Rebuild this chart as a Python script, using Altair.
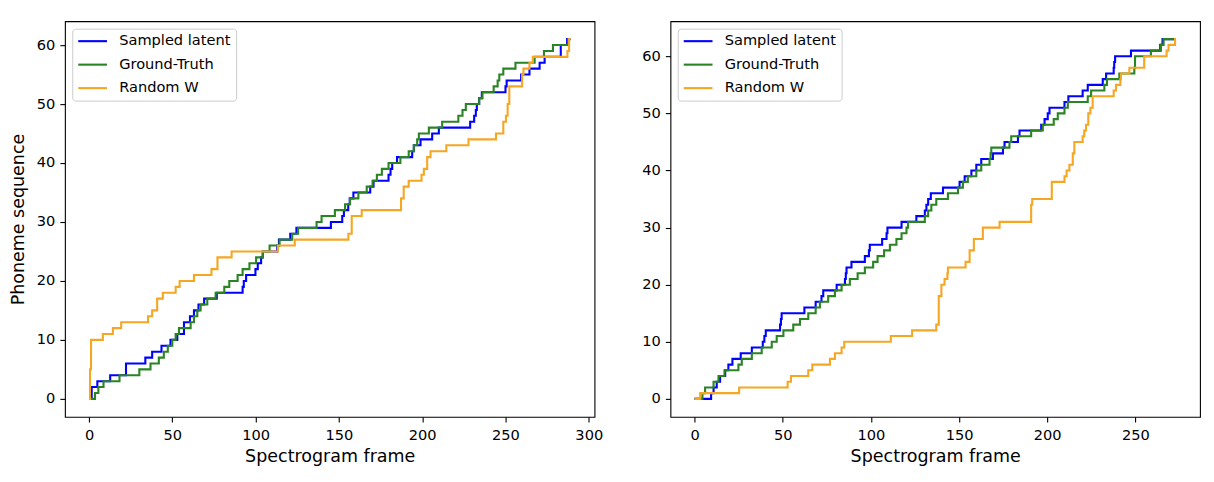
import altair as alt
import pandas as pd

SERIES = ["Sampled latent", "Ground-Truth", "Random W"]
COLORS = ["#0000ff", "#2a8424", "#f5a623"]

X_TITLE = "Spectrogram frame"
Y_TITLE = "Phoneme sequence"
Y_TICKS = [0, 10, 20, 30, 40, 50, 60]
L_X_TICKS = [0, 50, 100, 150, 200, 250, 300]
R_X_TICKS = [0, 50, 100, 150, 200, 250]

# ---------------- left panel ----------------
L_BLUE_X = [0, 1.6, 5, 12.7, 22.2, 33.8, 37.9, 43.5, 48.9, 53, 57, 60.6, 63, 65.7, 69.1,
            76.7, 92.2, 92.9, 94.3, 99.9, 101.3, 103.3, 104.3, 113, 114, 120.8, 124.5,
            145.2, 152, 153, 155.6, 156.5, 158.7, 168.8, 170.8, 179.8, 181, 182, 184.9,
            194, 195, 199, 206, 210, 228.8, 231.2, 232.2, 232.8, 234.2, 235.8, 250,
            250.7, 259.4, 264.4, 270.5, 273.5, 283.2, 287, 289]
L_BLUE_Y = [0, 2, 3, 4, 6, 7, 8, 9, 10, 11, 13, 14, 15, 16, 17,
            18, 19, 20, 21, 22, 23, 24, 25, 26, 27, 28, 29,
            30, 31, 32, 33, 34, 35, 36, 37, 38, 39, 40, 41,
            42, 43, 44, 45, 46, 47, 48, 49, 50, 51, 52, 53,
            54, 55, 56, 57, 58, 60, 61, 61]

L_GT_X = [0, 3.6, 5.6, 8.7, 18.3, 30.2, 36.9, 41.9, 44.9, 47.3, 50, 52, 54, 61, 63,
          65, 67, 71, 76, 81.2, 84.2, 89.2, 92.2, 96.3, 100.3, 104.3, 108.4, 114.4,
          122, 125.5, 136.6, 139.6, 147.6, 153.7, 156.7, 161.7, 166.7, 170.2, 172.8,
          175.8, 179.8, 186.9, 191.9, 195, 197, 198, 204, 212, 221.7, 224.2, 226.2,
          234.2, 236.2, 242.9, 245.3, 246.3, 248.7, 256, 267.5, 273.1, 278.5, 287.6, 289]
L_GT_Y = [0, 1, 2, 3, 4, 5, 6, 7, 8, 9, 10, 11, 12, 13, 14,
          15, 16, 17, 18, 19, 20, 21, 22, 23, 24, 25, 26, 27,
          28, 29, 30, 31, 32, 33, 34, 35, 36, 37, 38,
          39, 40, 41, 42, 43, 44, 45, 46, 47, 48, 49, 50,
          51, 52, 53, 54, 55, 56, 57, 58, 59, 60, 61, 61]

L_RW_X = [0, 0.6, 1.2, 8.3, 14.3, 19.3, 35.4, 37.9, 40.9, 44.3, 52, 54.4, 63, 73.5,
          77.1, 85.6, 113.4, 123.5, 155.7, 157.7, 163.7, 187.3, 188.9, 191.9, 199.6,
          201, 203, 205, 214.5, 227.8, 244.3, 248.7, 250.3, 251.3, 252.3, 260, 260.8,
          264.4, 266.4, 287.2, 288.2, 289]
L_RW_Y = [0, 5, 10, 11, 12, 13, 14, 15, 17, 18, 19, 20, 21, 22,
          24, 25, 26, 27, 28, 31, 32, 34, 36, 37, 38,
          39, 41, 42, 43, 44, 45, 47, 48, 50, 53, 55, 56,
          57, 58, 59, 61, 61]

# ---------------- right panel ----------------
R_BLUE_X = [0, 9.4, 10.8, 12.6, 14.5, 17.4, 19.2, 21.5, 26.2, 32.5, 38.7, 39.6, 40.4,
            48.5, 49, 49.4, 62.3, 68.7, 72, 73, 80.6, 85.3, 85.8, 86.2, 89, 96.6, 98.9,
            99.4, 106.4, 108.9, 109.4, 117.4, 125.8, 130.6, 131.5, 132.5, 134, 140.9,
            150.3, 153.2, 157, 159.8, 162.6, 169.2, 174.9, 175.8, 183.4, 184.3, 196.6,
            198.5, 200.3, 201.3, 209.8, 212, 220.1, 223, 231.5, 233.4, 237.7, 238, 238.5,
            247.5, 264.1, 265.4, 273]
R_BLUE_Y = [0, 1, 2, 3, 4, 5, 6, 7, 8, 9, 10, 11, 12,
            13, 14, 15, 16, 17, 18, 19, 20, 21, 22, 23, 24, 25, 26,
            27, 28, 29, 30, 31, 32, 33, 34, 35, 36, 37,
            38, 39, 40, 41, 42, 43, 44, 45, 46, 47, 48,
            49, 50, 51, 52, 53, 54, 55, 56, 57, 58, 59, 60,
            61, 62, 63, 63]

R_GT_X = [0, 4.5, 6, 10.8, 13.6, 17, 24.9, 26.8, 32.5, 38.1, 43.8, 46.6, 50.4, 56,
          59.8, 64.5, 68.7, 71.1, 75.8, 79.6, 83.4, 88.1, 92.5, 96.6, 101.3, 103.8,
          107.5, 110.8, 114.5, 117.4, 120.2, 121.1, 130.6, 132.5, 134.3, 137.1, 143.7,
          149.4, 152.2, 155, 159.8, 162.6, 167.3, 167.9, 168.3, 178.6, 179.6, 190.9,
          197.5, 203.7, 206, 209.8, 211.7, 223, 224.9, 232.4, 233.9, 240.9, 249.4,
          249.8, 258.8, 264.5, 266, 273]
R_GT_Y = [0, 1, 2, 3, 4, 5, 6, 7, 8, 9, 10, 11, 12, 13,
          14, 15, 16, 17, 18, 19, 20, 21, 22, 23, 24, 25,
          26, 27, 28, 29, 30, 31, 32, 33, 34, 35, 36,
          37, 38, 39, 40, 41, 42, 43, 44, 45, 46, 47,
          48, 49, 50, 51, 52, 53, 54, 55, 56, 57, 58,
          60, 61, 62, 63, 63]

R_RW_X = [0, 3.2, 25.3, 52.8, 54.7, 64.5, 66.8, 76.8, 79.6, 83.4, 84.9, 111.3, 123.4,
          137.1, 138.5, 140, 141.8, 143.4, 143.7, 153.7, 156, 158.4, 163.5, 173, 190.9,
          191.5, 202.6, 209.8, 211, 212.6, 214.5, 215.4, 220.1, 221, 222, 223.3, 224.5,
          225.8, 237.7, 239, 241.5, 241.8, 246.6, 255, 267.7, 268.8, 272.5, 273]
R_RW_Y = [0, 1, 2, 3, 4, 5, 6, 7, 8, 9, 10, 11, 12,
          13, 18, 20, 21, 22, 23, 24, 26, 28, 30, 31, 34,
          35, 38, 39, 40, 41, 43, 45, 46, 47, 48, 50, 51,
          53, 54, 55, 56, 57, 58, 60, 61, 62, 63, 63]

FONT = "DejaVu Sans"


def make_df(bx, by, gx, gy, rx, ry):
    parts = []
    for name, xs, ys in zip(SERIES, [bx, gx, rx], [by, gy, ry]):
        parts.append(pd.DataFrame({"frame": xs, "phoneme": ys, "series": name}))
    return pd.concat(parts, ignore_index=True)


def panel(df, xdom, xticks, ydom, ytitle):
    base = alt.Chart(df)
    layers = []
    for name in SERIES:
        layers.append(
            base.transform_filter(alt.datum.series == name)
            .mark_line(interpolate="step-after", strokeWidth=2.1)
            .encode(
                x=alt.X("frame:Q",
                        scale=alt.Scale(domain=xdom, nice=False, zero=False),
                        axis=alt.Axis(values=xticks, title=X_TITLE, titlePadding=5.4)),
                y=alt.Y("phoneme:Q",
                        scale=alt.Scale(domain=ydom, nice=False, zero=False),
                        axis=alt.Axis(values=Y_TICKS, title=ytitle, titlePadding=9)),
                color=alt.Color(
                    "series:N",
                    scale=alt.Scale(domain=SERIES, range=COLORS),
                    legend=alt.Legend(
                        title=None, orient="none", legendX=7.3, legendY=7.5,
                        fillColor="rgba(255,255,255,0.8)", strokeColor="#cccccc",
                        cornerRadius=3, padding=5,
                        symbolType="M-2.4,0H2.4", symbolSize=144, symbolStrokeWidth=2.1,
                        symbolOffset=7.9, labelOffset=19.1, rowPadding=7.5,
                        labelFont=FONT, labelFontSize=14.6, labelColor="black",
                    ),
                ),
            )
        )
    return alt.layer(*layers).properties(width=530, height=396)


left = panel(make_df(L_BLUE_X, L_BLUE_Y, L_GT_X, L_GT_Y, L_RW_X, L_RW_Y),
             [-14.45, 303.45], L_X_TICKS, [-3.05, 64.05], Y_TITLE)
right = panel(make_df(R_BLUE_X, R_BLUE_Y, R_GT_X, R_GT_Y, R_RW_X, R_RW_Y),
              [-13.65, 286.65], R_X_TICKS, [-3.15, 66.15], None)

chart = (
    alt.hconcat(left, right, spacing=37)
    .resolve_scale(color="independent")
    .properties(padding={"left": 0, "top": 12, "right": 5, "bottom": 5})
    .configure(background="white")
    .configure_view(stroke="black", strokeWidth=1.1)
    .configure_axis(
        domain=False, grid=False,
        tickColor="black", tickSize=5.1, tickWidth=1.1,
        labelPadding=5.1, labelFont=FONT, labelFontSize=14.6, labelColor="black",
        titleFont=FONT, titleFontSize=17.5, titleFontWeight="normal", titleColor="black",
    )
)

chart.save("out.html", embed_options={"renderer": "svg", "actions": False})
